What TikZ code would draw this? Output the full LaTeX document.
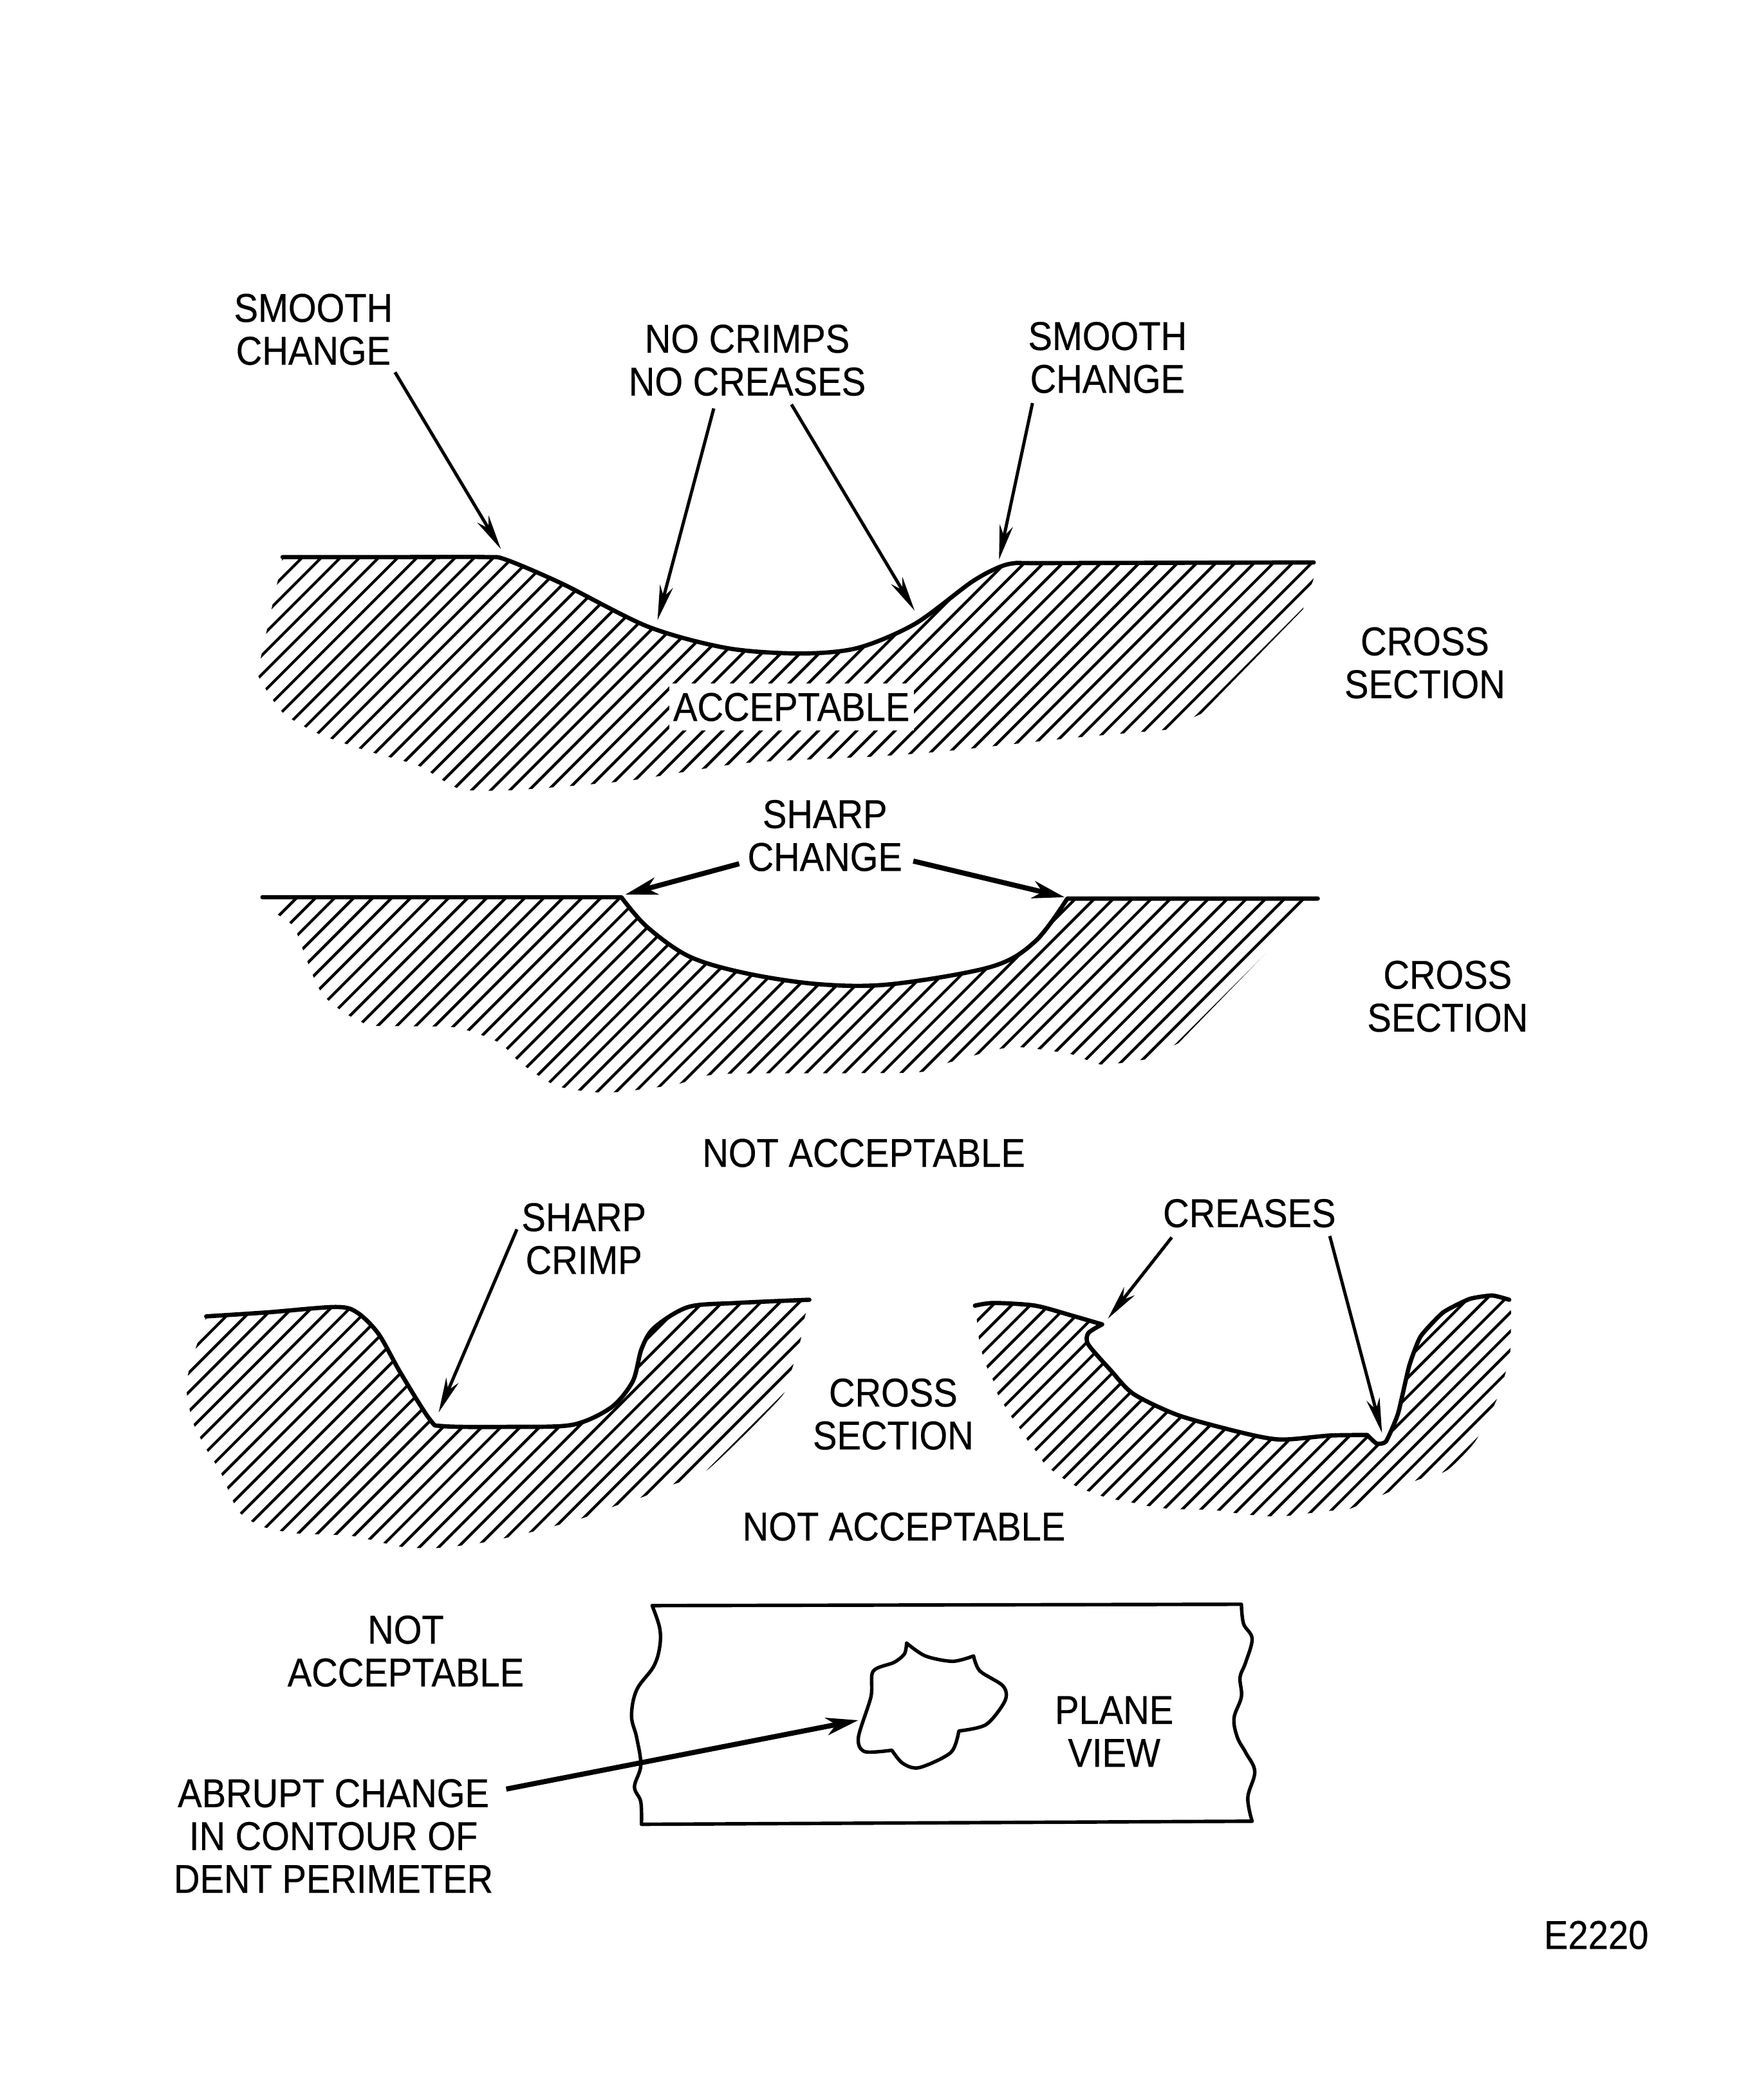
\documentclass[tikz,border=0pt]{standalone}
\usepackage{fontspec}
\setmainfont[FakeStretch=0.9,FakeBold=0.4]{Liberation Sans}
\usetikzlibrary{arrows.meta}
\tikzset{
  x=1pt,y=-1pt,
  lbl/.style={align=center,inner sep=0pt,text=black,font=\fontsize{30}{32}\selectfont},
  profile/.style={line width=3.2pt,line join=round,line cap=round},
  thinprofile/.style={line width=2.6pt,line join=round,line cap=round},
  hatchline/.style={line width=2.1pt},
  leader/.style={line width=2.4pt,-{Stealth[length=26pt,width=10pt,inset=8pt]}},
  thickleader/.style={line width=3.8pt,-{Stealth[length=24pt,width=13pt,inset=7pt]}},
}
\def\profA{plot[smooth,tension=.5] coordinates {(211,416)(300,416)(362,416)(378,418)(420,436)(484,468)(543,484)(597,488)(640,484)(683,466)(725,435)(745,424)(758,420.5)(780,420.5)(981,420)}}
\def\botA{-- (981,432) -- (973,455) -- (897,533) -- plot[smooth,tension=.4] coordinates {(871,545)(801,551)(705,561)(651,565)(554,570)(469,583)(383,590)(343,589)(313,572)(275,561)(238,548)(211,532)(192,503)(195,490)(208,431)}}
\def\profB{(196,670) -- (464,670) -- plot[smooth,tension=.55] coordinates {(464,670)(483,692)(515,714.4)(558,727)(612,735)(665,735)(740,722)(773,703)(797,671)} -- (984,671)}
\def\botB{-- (982,674) -- (880,779) -- plot[smooth,tension=.4] coordinates {(856,791)(823,795)(799,787)(762,782)(743,784)(703,795)(681,801)(539,802)(504,810)(453,816)(416,811)(389,794)(376,781)(365,775)(338,767)(279,766)(268,762)(258,757)(250,751)(242,744)(236,734)(228,714)(220,693)(212,686)(204,681)}}
\def\profC{plot[smooth,tension=.5] coordinates {(154,983)(200,980)(250.4,976)(266.5,980)(282.6,996)(299,1025)(321,1060)(331,1065)(380,1065.5)(427.4,1064)(456.4,1051)(472.5,1031.5)(479,1007.5)(488.5,991.5)(514,976)(550,973)(604.4,970.6)}}
\def\botC{-- plot[smooth,tension=.4] coordinates {(601,983.5)(598,1000)(591.5,1022)(583.5,1043)(529,1097)(501.4,1109)(477,1119)(459.6,1124.5)(434,1134)(395,1144.5)(360,1152)(326,1156)(299,1155)(263,1147)(221.4,1145)(196,1140)(178,1128.5)(165,1100)(154,1082)(144,1062)(139.4,1039.5)(141,1023.5)(147.4,1003)}}
\def\profD{plot[smooth,tension=.45] coordinates {(728,975)(742,973)(773,975)(801.4,982.7)(823,989)} -- plot[smooth,tension=.45] coordinates {(823,989)(812.7,995.5)(812.7,1004)(829.6,1023.5)(846.5,1041)(880.3,1057)(928,1070)(956.5,1075)(993,1072)(1021,1071.6)} -- plot[smooth,tension=.3] coordinates {(1021,1071.6)(1028,1078)(1035,1076.4)(1044,1055.5)(1052.3,1020)(1060.8,998)(1077.7,980)(1097.4,970)(1114.3,967.4)(1127,970.6)}}
\def\botD{-- plot[smooth,tension=.4] coordinates {(1128.4,980)(1127.8,1009)(1124,1026)(1117,1046.7)(1101.6,1076.4)(1080.5,1098)(1059,1105)(1034,1115.6)(1007,1127)(990.3,1128.4)(956.5,1132.4)(931,1131)(905.7,1127.6)(880.3,1127)(866,1126)(852,1123.6)(841,1121)(828,1119)(817,1115)(807,1111.6)(797,1106)(788.7,1100.4)(780,1093)(774.6,1085)(767.6,1076)(762.5,1068)(756.3,1059.5)(750.7,1050.7)(745,1041)(741.6,1030.7)(737,1021)(733.7,1011.5)(731,999.5)(729.5,986)}}
\begin{document}
\begin{tikzpicture}
\useasboundingbox (0,0) rectangle (1312,1568.2);
\fill[white] (0,0) rectangle (1312,1568.2);

% --- panel 1 hatching
\begin{scope}
  \clip \profA \botA -- cycle;
  \foreach \c in {1428.5,1414.2,...,600}
    \draw[hatchline] ({\c-300},300) -- ({\c-650},650);
\end{scope}
\draw[profile] \profA;

% --- panel 2 hatching
\begin{scope}
  \clip \profB \botB -- cycle;
  \foreach \c in {1658.8,1644.6,...,880}
    \draw[hatchline] ({\c-600},600) -- ({\c-850},850);
\end{scope}
\draw[profile] \profB;

% --- panel 3 hatching
\begin{scope}
  \clip \profC \botC -- cycle;
  \foreach \c in {1627,1612.6,...,1100}
    \draw[hatchline] ({\c-950},950) -- ({\c-1170},1170);
\end{scope}
\draw[profile] \profC;

% --- panel 4 hatching
\begin{scope}
  \clip \profD \botD -- cycle;
  \foreach \c in {2234,2220,...,1700}
    \draw[hatchline] ({\c-950},950) -- ({\c-1150},1150);
\end{scope}
\draw[profile] \profD;

% --- plane view
\draw[thinprofile] (487,1199) -- (927,1198)
  -- plot[smooth,tension=.6] coordinates {(927,1198)(928.6,1212.5)(935,1223.7)(930.2,1241.4)(926,1252.6)(927,1267)(921.5,1283)(924,1297.4)(930.2,1308.7)(937,1323)(931.8,1342.3)(935,1360)}
  -- (479,1362.3)
  -- plot[smooth,tension=.6] coordinates {(479,1362.3)(478.5,1345.5)(473.8,1334.3)(478.5,1318.3)(475.4,1297.4)(471.6,1281.4)(475.4,1262)(488,1244.6)(492.6,1230)(492.6,1215.7)(487,1199)};
\draw[thinprofile] plot[smooth,tension=.5] coordinates {(677,1227)(691,1236.6)(711.4,1240.6)(727,1236.6)}
  -- plot[smooth,tension=.5] coordinates {(727,1236.6)(731.7,1247.8)(749,1259)(750.5,1270)(736.4,1287.8)(716,1292.6)}
  -- plot[smooth,tension=.5] coordinates {(716,1292.6)(710,1308.7)(686.4,1320)(674,1316.7)(666,1307)}
  -- plot[smooth,tension=.5] coordinates {(666,1307)(645.7,1308)(641,1297.4)(650.4,1267)(652,1248)(667.6,1241.4)(675.4,1235)(677,1227)};

% --- labels
\node[lbl] (smoothL) at (234,246) {SMOOTH\\CHANGE};
\node[lbl] (crimps) at (558,269) {NO CRIMPS\\NO CREASES};
\node[lbl] (smoothR) at (827,267) {SMOOTH\\CHANGE};
\node[lbl] (cross1) at (1064,495) {CROSS\\SECTION};
\node[lbl,fill=white,inner xsep=3pt,inner ysep=7pt] (accept) at (591,528) {ACCEPTABLE};
\node[lbl] (sharp) at (616,624) {SHARP\\CHANGE};
\node[lbl] (cross2) at (1081,744) {CROSS\\SECTION};
\node[lbl] (notA) at (645,861) {NOT ACCEPTABLE};
\node[lbl] (crimp) at (436,925) {SHARP\\CRIMP};
\node[lbl] (creases) at (933,906) {CREASES};
\node[lbl] (cross3) at (667,1056) {CROSS\\SECTION};
\node[lbl] (notB) at (675,1140) {NOT ACCEPTABLE};
\node[lbl] (notC) at (303,1233) {NOT\\ACCEPTABLE};
\node[lbl] (plane) at (832,1293) {PLANE\\VIEW};
\node[lbl] (abrupt) at (249,1371) {ABRUPT CHANGE\\IN CONTOUR OF\\DENT PERIMETER};
\node[lbl] (code) at (1192,1445) {E2220};

% --- arrow targets
\coordinate (t1) at (374,410);
\coordinate (t2) at (491,463);
\coordinate (t3) at (683,456);
\coordinate (t4) at (746,418);
\coordinate (t5) at (467,668);
\coordinate (t6) at (795,670);
\coordinate (t7) at (327.6,1054.7);
\coordinate (t8) at (827.3,984.7);
\coordinate (t9) at (1032,1070);
\coordinate (t10) at (641,1284.6);

% --- leaders
\draw[leader] ([shift={(61,32)}]smoothL.center) -- (t1);
\draw[leader] ([shift={(-25,36)}]crimps.center) -- (t2);
\draw[leader] ([shift={(33,33)}]crimps.center) -- (t3);
\draw[leader] ([shift={(-56,34)}]smoothR.center) -- (t4);
\draw[thickleader] ([shift={(-64,21)}]sharp.center) -- (t5);
\draw[thickleader] ([shift={(66,19)}]sharp.center) -- (t6);
\draw[leader] ([shift={(-50,-7)}]crimp.center) -- (t7);
\draw[leader] ([shift={(-58,18)}]creases.center) -- (t8);
\draw[leader] ([shift={(60,17)}]creases.center) -- (t9);
\draw[thickleader] ([shift={(129,-35)}]abrupt.center) -- (t10);
\end{tikzpicture}
\end{document}
